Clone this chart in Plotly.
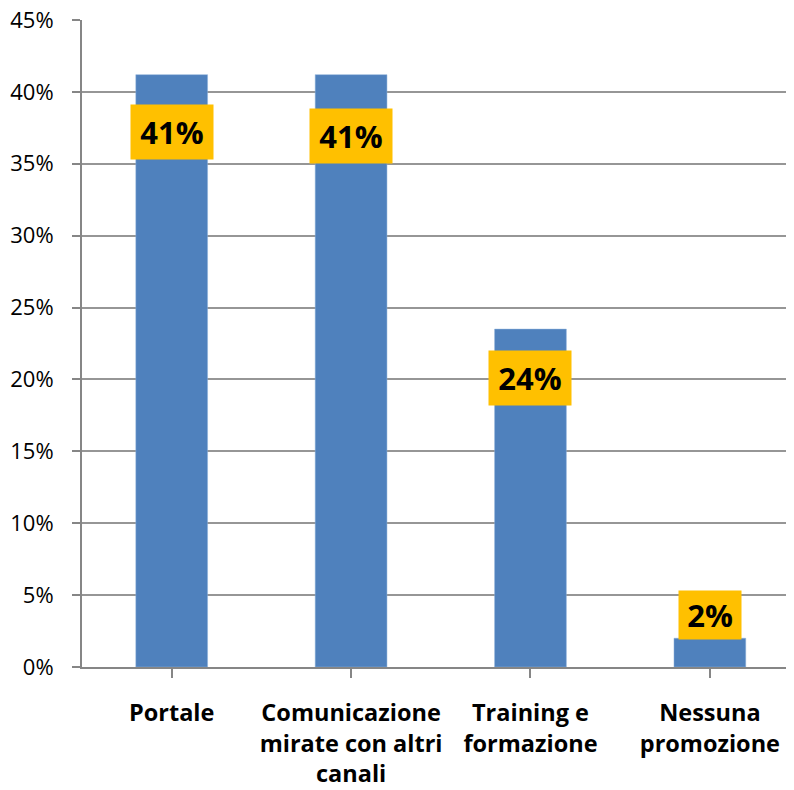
import plotly.graph_objects as go

categories = ["Portale", "Comunicazione<br>mirate con altri<br>canali", "Training e<br>formazione", "Nessuna<br>promozione"]
values = [41.2, 41.2, 23.5, 2.0]
labels = ["41%", "41%", "24%", "2%"]
label_y = [37.2, 36.9, 20.1, 3.6]
y_ticks = [0, 5, 10, 15, 20, 25, 30, 35, 40, 45]
y_tick_text = [f"{v}%" for v in y_ticks]

fig = go.Figure()
fig.add_trace(go.Bar(
    x=list(range(len(categories))), y=values, width=0.4,
    marker=dict(color="#4F81BD", line=dict(color="#8DB0DA", width=0.5)),
    hoverinfo="skip",
))

for i, (lab, ly) in enumerate(zip(labels, label_y)):
    small = len(lab) < 3
    fig.add_annotation(
        x=i, y=ly, xref="x", yref="y", text=f"<b>{lab}</b>", showarrow=False,
        font=dict(family="Open Sans", size=31, color="#000000"),
        bgcolor="#FFC000", borderpad=7,
        width=48 if small else 68, height=34 if small else 40,
        align="center", valign="middle",
        xanchor="center", yanchor="middle",
    )

fig.update_layout(
    width=786, height=782,
    margin=dict(l=74, r=0, t=12, b=123, autoexpand=False),
    plot_bgcolor="white", paper_bgcolor="white",
    showlegend=False,
    xaxis=dict(
        range=[-0.5, 3.469],
        tickmode="array", tickvals=list(range(len(categories))),
        ticktext=[f"<b>{c}</b>" for c in categories],
        tickson="boundaries", ticks="outside", ticklen=9, tickwidth=2, tickcolor="#868686",
        showline=True, linecolor="#868686", linewidth=2,
        showgrid=False, zeroline=False,
        ticklabelstandoff=15, automargin=False, ticklabeloverflow="allow",
        tickfont=dict(family="Open Sans", size=23.5, color="#000000"),
        fixedrange=True,
    ),
    yaxis=dict(
        range=[0, 45], tickmode="array", tickvals=y_ticks, ticktext=y_tick_text,
        ticks="outside", ticklen=8, tickwidth=2, tickcolor="#868686",
        showline=True, linecolor="#868686", linewidth=2,
        showgrid=True, gridcolor="#969696", gridwidth=2,
        zeroline=False,
        ticklabelstandoff=14, automargin=False, ticklabeloverflow="allow",
        tickfont=dict(family="Open Sans", size=22, color="#000000"),
        fixedrange=True,
    ),
)

fig.write_html("out.html")
